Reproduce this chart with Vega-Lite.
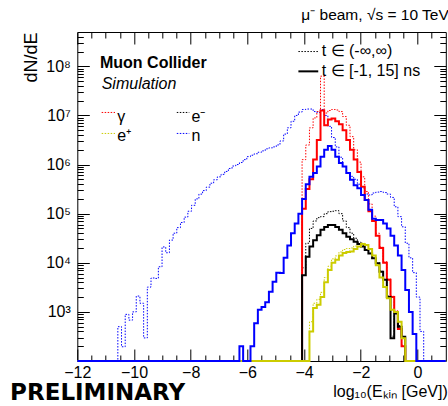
{
  "$schema": "https://vega.github.io/schema/vega-lite/v6.json",
  "width": 368.5,
  "height": 329,
  "autosize": "none",
  "padding": {"left": 77.3, "top": 32, "right": 2.2, "bottom": 45},
  "title": {"text": "μ⁻ beam, √s = 10 TeV", "anchor": "end", "fontSize": 15.5, "fontWeight": "normal", "font": "Liberation Sans", "color": "black", "offset": 8, "dx": -1},
  "config": {
    "view": {"stroke": "black", "strokeWidth": 1},
    "axis": {"labelFont": "Liberation Sans", "labelFontSize": 16, "labelColor": "black", "titleFont": "Liberation Sans", "titleFontSize": 16, "titleFontWeight": "normal", "titleColor": "black", "tickColor": "black", "tickWidth": 1, "domain": false, "grid": false, "labelFlush": false, "labelOverlap": false},
    "text": {"font": "Liberation Sans", "color": "black"}
  },
  "resolve": {"axis": {"x": "independent", "y": "independent"}},
  "datasets": {
    "h": [
      {"s":"n_all","x":-12,"y":100},{"s":"n_all","x":-10.57,"y":500},{"s":"n_all","x":-10.44,"y":195},{"s":"n_all","x":-10.31,"y":890},{"s":"n_all","x":-10.18,"y":680},{"s":"n_all","x":-10.05,"y":1000},{"s":"n_all","x":-9.92,"y":2100},{"s":"n_all","x":-9.79,"y":1500},{"s":"n_all","x":-9.66,"y":295},{"s":"n_all","x":-9.53,"y":3200},{"s":"n_all","x":-9.4,"y":4900},{"s":"n_all","x":-9.27,"y":4800},{"s":"n_all","x":-9.14,"y":8300},{"s":"n_all","x":-9.01,"y":21000},{"s":"n_all","x":-8.88,"y":16000},{"s":"n_all","x":-8.75,"y":29000},{"s":"n_all","x":-8.62,"y":40000},{"s":"n_all","x":-8.49,"y":52000},{"s":"n_all","x":-8.36,"y":66000},{"s":"n_all","x":-8.23,"y":85000},{"s":"n_all","x":-8.1,"y":112000},{"s":"n_all","x":-7.97,"y":148000},{"s":"n_all","x":-7.84,"y":200000},{"s":"n_all","x":-7.71,"y":250000},{"s":"n_all","x":-7.58,"y":295000},{"s":"n_all","x":-7.45,"y":347000},{"s":"n_all","x":-7.32,"y":417000},{"s":"n_all","x":-7.19,"y":490000},{"s":"n_all","x":-7.06,"y":562000},{"s":"n_all","x":-6.93,"y":631000},{"s":"n_all","x":-6.8,"y":724000},{"s":"n_all","x":-6.67,"y":832000},{"s":"n_all","x":-6.54,"y":933000},{"s":"n_all","x":-6.41,"y":1000000},{"s":"n_all","x":-6.28,"y":1100000},{"s":"n_all","x":-6.15,"y":1260000},{"s":"n_all","x":-6.02,"y":1450000},{"s":"n_all","x":-5.89,"y":1550000},{"s":"n_all","x":-5.76,"y":1660000},{"s":"n_all","x":-5.63,"y":1780000},{"s":"n_all","x":-5.5,"y":1900000},{"s":"n_all","x":-5.37,"y":2090000},{"s":"n_all","x":-5.24,"y":2190000},{"s":"n_all","x":-5.11,"y":2290000},{"s":"n_all","x":-4.98,"y":2510000},{"s":"n_all","x":-4.85,"y":3020000},{"s":"n_all","x":-4.72,"y":4170000},{"s":"n_all","x":-4.59,"y":5600000},{"s":"n_all","x":-4.46,"y":7600000},{"s":"n_all","x":-4.33,"y":10000000},{"s":"n_all","x":-4.2,"y":11700000},{"s":"n_all","x":-4.07,"y":13200000},{"s":"n_all","x":-3.94,"y":13500000},{"s":"n_all","x":-3.81,"y":13500000},{"s":"n_all","x":-3.68,"y":12000000},{"s":"n_all","x":-3.55,"y":11500000},{"s":"n_all","x":-3.42,"y":13200000},{"s":"n_all","x":-3.29,"y":10000000},{"s":"n_all","x":-3.16,"y":6000000},{"s":"n_all","x":-3.03,"y":3550000},{"s":"n_all","x":-2.9,"y":2290000},{"s":"n_all","x":-2.77,"y":1410000},{"s":"n_all","x":-2.64,"y":912000},{"s":"n_all","x":-2.51,"y":676000},{"s":"n_all","x":-2.38,"y":575000},{"s":"n_all","x":-2.25,"y":501000},{"s":"n_all","x":-2.12,"y":398000},{"s":"n_all","x":-1.99,"y":331000},{"s":"n_all","x":-1.86,"y":251000},{"s":"n_all","x":-1.73,"y":240000},{"s":"n_all","x":-1.6,"y":263000},{"s":"n_all","x":-1.47,"y":275000},{"s":"n_all","x":-1.34,"y":282000},{"s":"n_all","x":-1.21,"y":269000},{"s":"n_all","x":-1.08,"y":251000},{"s":"n_all","x":-0.95,"y":214000},{"s":"n_all","x":-0.82,"y":138000},{"s":"n_all","x":-0.69,"y":87000},{"s":"n_all","x":-0.56,"y":54000},{"s":"n_all","x":-0.43,"y":25000},{"s":"n_all","x":-0.3,"y":12600},{"s":"n_all","x":-0.17,"y":6300},{"s":"n_all","x":-0.04,"y":2000},{"s":"n_all","x":0.09,"y":400},{"s":"n_all","x":0.22,"y":100},{"s":"n_all","x":1,"y":100},

      {"s":"g_all","x":-12,"y":100},{"s":"g_all","x":-4.07,"y":1260000},{"s":"g_all","x":-3.94,"y":2500000},{"s":"g_all","x":-3.81,"y":5600000},{"s":"g_all","x":-3.68,"y":8900000},{"s":"g_all","x":-3.55,"y":12000000},{"s":"g_all","x":-3.42,"y":63000000},{"s":"g_all","x":-3.29,"y":11200000},{"s":"g_all","x":-3.16,"y":12600000},{"s":"g_all","x":-3.03,"y":13200000},{"s":"g_all","x":-2.9,"y":12900000},{"s":"g_all","x":-2.77,"y":12000000},{"s":"g_all","x":-2.64,"y":9500000},{"s":"g_all","x":-2.51,"y":6300000},{"s":"g_all","x":-2.38,"y":3700000},{"s":"g_all","x":-2.25,"y":2000000},{"s":"g_all","x":-2.12,"y":1120000},{"s":"g_all","x":-1.99,"y":562000},{"s":"g_all","x":-1.86,"y":282000},{"s":"g_all","x":-1.73,"y":158000},{"s":"g_all","x":-1.6,"y":89000},{"s":"g_all","x":-1.47,"y":40000},{"s":"g_all","x":-1.34,"y":21000},{"s":"g_all","x":-1.21,"y":10500},{"s":"g_all","x":-1.08,"y":4700},{"s":"g_all","x":-0.95,"y":2100},{"s":"g_all","x":-0.82,"y":1050},{"s":"g_all","x":-0.69,"y":470},{"s":"g_all","x":-0.56,"y":210},{"s":"g_all","x":-0.43,"y":100},{"s":"g_all","x":1,"y":100},

      {"s":"em_all","x":-12,"y":100},{"s":"em_all","x":-4.07,"y":7900},{"s":"em_all","x":-3.94,"y":25000},{"s":"em_all","x":-3.81,"y":50000},{"s":"em_all","x":-3.68,"y":71000},{"s":"em_all","x":-3.55,"y":83000},{"s":"em_all","x":-3.42,"y":87000},{"s":"em_all","x":-3.29,"y":100000},{"s":"em_all","x":-3.16,"y":110000},{"s":"em_all","x":-3.03,"y":112000},{"s":"em_all","x":-2.9,"y":115000},{"s":"em_all","x":-2.77,"y":100000},{"s":"em_all","x":-2.64,"y":71000},{"s":"em_all","x":-2.51,"y":52000},{"s":"em_all","x":-2.38,"y":40000},{"s":"em_all","x":-2.25,"y":31600},{"s":"em_all","x":-2.12,"y":26300},{"s":"em_all","x":-1.99,"y":22400},{"s":"em_all","x":-1.86,"y":18600},{"s":"em_all","x":-1.73,"y":15800},{"s":"em_all","x":-1.6,"y":12600},{"s":"em_all","x":-1.47,"y":10000},{"s":"em_all","x":-1.34,"y":6800},{"s":"em_all","x":-1.21,"y":4600},{"s":"em_all","x":-1.08,"y":2100},{"s":"em_all","x":-0.95,"y":320},{"s":"em_all","x":-0.82,"y":950},{"s":"em_all","x":-0.69,"y":525},{"s":"em_all","x":-0.56,"y":316},{"s":"em_all","x":-0.43,"y":100},{"s":"em_all","x":1,"y":100},

      {"s":"ep_all","x":-12,"y":100},{"s":"ep_all","x":-3.81,"y":630},{"s":"ep_all","x":-3.68,"y":1500},{"s":"ep_all","x":-3.55,"y":1800},{"s":"ep_all","x":-3.42,"y":2500},{"s":"ep_all","x":-3.29,"y":5000},{"s":"ep_all","x":-3.16,"y":8500},{"s":"ep_all","x":-3.03,"y":12000},{"s":"ep_all","x":-2.9,"y":13800},{"s":"ep_all","x":-2.77,"y":16600},{"s":"ep_all","x":-2.64,"y":18600},{"s":"ep_all","x":-2.51,"y":19500},{"s":"ep_all","x":-2.38,"y":20000},{"s":"ep_all","x":-2.25,"y":21900},{"s":"ep_all","x":-2.12,"y":24000},{"s":"ep_all","x":-1.99,"y":25100},{"s":"ep_all","x":-1.86,"y":23400},{"s":"ep_all","x":-1.73,"y":19000},{"s":"ep_all","x":-1.6,"y":14100},{"s":"ep_all","x":-1.47,"y":8900},{"s":"ep_all","x":-1.34,"y":5000},{"s":"ep_all","x":-1.21,"y":3200},{"s":"ep_all","x":-1.08,"y":1900},{"s":"ep_all","x":-0.95,"y":1100},{"s":"ep_all","x":-0.82,"y":1000},{"s":"ep_all","x":-0.69,"y":630},{"s":"ep_all","x":-0.56,"y":290},{"s":"ep_all","x":-0.43,"y":100},{"s":"ep_all","x":1,"y":100},

      {"s":"g_win","x":-12,"y":100},{"s":"g_win","x":-4.07,"y":126000},{"s":"g_win","x":-3.94,"y":316000},{"s":"g_win","x":-3.81,"y":501000},{"s":"g_win","x":-3.68,"y":1260000},{"s":"g_win","x":-3.55,"y":3160000},{"s":"g_win","x":-3.42,"y":12600000},{"s":"g_win","x":-3.29,"y":6300000},{"s":"g_win","x":-3.16,"y":8300000},{"s":"g_win","x":-3.03,"y":8700000},{"s":"g_win","x":-2.9,"y":7600000},{"s":"g_win","x":-2.77,"y":6600000},{"s":"g_win","x":-2.64,"y":5000000},{"s":"g_win","x":-2.51,"y":3160000},{"s":"g_win","x":-2.38,"y":2000000},{"s":"g_win","x":-2.25,"y":1260000},{"s":"g_win","x":-2.12,"y":708000},{"s":"g_win","x":-1.99,"y":355000},{"s":"g_win","x":-1.86,"y":190000},{"s":"g_win","x":-1.73,"y":112000},{"s":"g_win","x":-1.6,"y":71000},{"s":"g_win","x":-1.47,"y":35500},{"s":"g_win","x":-1.34,"y":20000},{"s":"g_win","x":-1.21,"y":10000},{"s":"g_win","x":-1.08,"y":4500},{"s":"g_win","x":-0.95,"y":2000},{"s":"g_win","x":-0.82,"y":1000},{"s":"g_win","x":-0.69,"y":450},{"s":"g_win","x":-0.56,"y":200},{"s":"g_win","x":-0.43,"y":100},{"s":"g_win","x":1,"y":100},

      {"s":"em_win","x":-12,"y":100},{"s":"em_win","x":-4.07,"y":5600},{"s":"em_win","x":-3.94,"y":13200},{"s":"em_win","x":-3.81,"y":21400},{"s":"em_win","x":-3.68,"y":28800},{"s":"em_win","x":-3.55,"y":36300},{"s":"em_win","x":-3.42,"y":46800},{"s":"em_win","x":-3.29,"y":53700},{"s":"em_win","x":-3.16,"y":58900},{"s":"em_win","x":-3.03,"y":58900},{"s":"em_win","x":-2.9,"y":53700},{"s":"em_win","x":-2.77,"y":46800},{"s":"em_win","x":-2.64,"y":39800},{"s":"em_win","x":-2.51,"y":33900},{"s":"em_win","x":-2.38,"y":30200},{"s":"em_win","x":-2.25,"y":26900},{"s":"em_win","x":-2.12,"y":24000},{"s":"em_win","x":-1.99,"y":21400},{"s":"em_win","x":-1.86,"y":18200},{"s":"em_win","x":-1.73,"y":15500},{"s":"em_win","x":-1.6,"y":12300},{"s":"em_win","x":-1.47,"y":9800},{"s":"em_win","x":-1.34,"y":6600},{"s":"em_win","x":-1.21,"y":4500},{"s":"em_win","x":-1.08,"y":2000},{"s":"em_win","x":-0.95,"y":290},{"s":"em_win","x":-0.82,"y":930},{"s":"em_win","x":-0.69,"y":500},{"s":"em_win","x":-0.56,"y":310},{"s":"em_win","x":-0.43,"y":100},{"s":"em_win","x":1,"y":100},

      {"s":"ep_win","x":-12,"y":100},{"s":"ep_win","x":-3.81,"y":400},{"s":"ep_win","x":-3.68,"y":1200},{"s":"ep_win","x":-3.55,"y":1400},{"s":"ep_win","x":-3.42,"y":2000},{"s":"ep_win","x":-3.29,"y":4000},{"s":"ep_win","x":-3.16,"y":7100},{"s":"ep_win","x":-3.03,"y":10000},{"s":"ep_win","x":-2.9,"y":11500},{"s":"ep_win","x":-2.77,"y":14100},{"s":"ep_win","x":-2.64,"y":15800},{"s":"ep_win","x":-2.51,"y":16600},{"s":"ep_win","x":-2.38,"y":17000},{"s":"ep_win","x":-2.25,"y":19000},{"s":"ep_win","x":-2.12,"y":21400},{"s":"ep_win","x":-1.99,"y":24000},{"s":"ep_win","x":-1.86,"y":22900},{"s":"ep_win","x":-1.73,"y":19000},{"s":"ep_win","x":-1.6,"y":14100},{"s":"ep_win","x":-1.47,"y":8900},{"s":"ep_win","x":-1.34,"y":5000},{"s":"ep_win","x":-1.21,"y":3200},{"s":"ep_win","x":-1.08,"y":1900},{"s":"ep_win","x":-0.95,"y":1100},{"s":"ep_win","x":-0.82,"y":1000},{"s":"ep_win","x":-0.69,"y":630},{"s":"ep_win","x":-0.56,"y":290},{"s":"ep_win","x":-0.43,"y":100},{"s":"ep_win","x":1,"y":100},

      {"s":"n_win","x":-12,"y":100},{"s":"n_win","x":-6.28,"y":200},{"s":"n_win","x":-6.15,"y":100},{"s":"n_win","x":-5.89,"y":200},{"s":"n_win","x":-5.76,"y":590},{"s":"n_win","x":-5.63,"y":1100},{"s":"n_win","x":-5.5,"y":1260},{"s":"n_win","x":-5.37,"y":1580},{"s":"n_win","x":-5.24,"y":2570},{"s":"n_win","x":-5.11,"y":4100},{"s":"n_win","x":-4.98,"y":6300},{"s":"n_win","x":-4.85,"y":6200},{"s":"n_win","x":-4.72,"y":12600},{"s":"n_win","x":-4.59,"y":22400},{"s":"n_win","x":-4.46,"y":40000},{"s":"n_win","x":-4.33,"y":63000},{"s":"n_win","x":-4.2,"y":100000},{"s":"n_win","x":-4.07,"y":200000},{"s":"n_win","x":-3.94,"y":398000},{"s":"n_win","x":-3.81,"y":562000},{"s":"n_win","x":-3.68,"y":676000},{"s":"n_win","x":-3.55,"y":912000},{"s":"n_win","x":-3.42,"y":1450000},{"s":"n_win","x":-3.29,"y":2000000},{"s":"n_win","x":-3.16,"y":2400000},{"s":"n_win","x":-3.03,"y":2000000},{"s":"n_win","x":-2.9,"y":1450000},{"s":"n_win","x":-2.77,"y":1070000},{"s":"n_win","x":-2.64,"y":912000},{"s":"n_win","x":-2.51,"y":676000},{"s":"n_win","x":-2.38,"y":490000},{"s":"n_win","x":-2.25,"y":380000},{"s":"n_win","x":-2.12,"y":331000},{"s":"n_win","x":-1.99,"y":240000},{"s":"n_win","x":-1.86,"y":190000},{"s":"n_win","x":-1.73,"y":120000},{"s":"n_win","x":-1.6,"y":79000},{"s":"n_win","x":-1.47,"y":74000},{"s":"n_win","x":-1.34,"y":74000},{"s":"n_win","x":-1.21,"y":63000},{"s":"n_win","x":-1.08,"y":50000},{"s":"n_win","x":-0.95,"y":35500},{"s":"n_win","x":-0.82,"y":22400},{"s":"n_win","x":-0.69,"y":14100},{"s":"n_win","x":-0.56,"y":7100},{"s":"n_win","x":-0.43,"y":2800},{"s":"n_win","x":-0.3,"y":1000},{"s":"n_win","x":-0.17,"y":355},{"s":"n_win","x":-0.04,"y":100},{"s":"n_win","x":1,"y":100}
    ]
  },
  "layer": [
    {
      "data": {"name": "h"},
      "transform": [{"filter": "datum.s == 'n_all'"}],
      "mark": {"type": "line", "interpolate": "step-after", "color": "#0000ff", "strokeWidth": 1, "strokeDash": [1.5, 1.5]},
      "encoding": {
        "x": {"field": "x", "type": "quantitative", "scale": {"domain": [-12, 1], "nice": false, "zero": false},
              "axis": {"orient": "bottom", "values": [-12, -10, -8, -6, -4, -2, 0], "tickSize": -12, "labelPadding": 15, "title": "log₁₀(Eₖᵢₙ [GeV])", "titleAnchor": "end", "titleAlign": "right", "titleBaseline": "alphabetic", "titleX": 370, "titleY": 35}},
        "y": {"field": "y", "type": "quantitative", "scale": {"type": "log", "domain": [100, 500000000], "nice": false},
              "axis": {"orient": "left", "values": [1000, 10000, 100000, 1000000, 10000000, 100000000], "tickSize": -12, "labelPadding": 19,
                       "labelExpr": "'10' + ['⁰','¹','²','³','⁴','⁵','⁶','⁷','⁸','⁹'][round(log(datum.value)/LN10)]",
                       "title": "dN/dE", "titleFontSize": 18, "titleAngle": -90, "titleAlign": "right", "titleBaseline": "middle", "titleX": -46, "titleY": 0}}
      }
    },
    {
      "data": {"name": "h"},
      "transform": [{"filter": "datum.s == 'g_all'"}],
      "mark": {"type": "line", "interpolate": "step-after", "color": "#ff0000", "strokeWidth": 1, "strokeDash": [1.5, 1.5]},
      "encoding": {
        "x": {"field": "x", "type": "quantitative", "scale": {"domain": [-12, 1], "nice": false, "zero": false},
              "axis": {"orient": "bottom", "values": [-11.5, -11, -10.5, -9.5, -9, -8.5, -7.5, -7, -6.5, -5.5, -5, -4.5, -3.5, -3, -2.5, -1.5, -1, -0.5, 0.5], "tickSize": -6, "labels": false, "title": null}},
        "y": {"field": "y", "type": "quantitative", "scale": {"type": "log", "domain": [100, 500000000], "nice": false},
              "axis": {"orient": "left", "values": [200,300,400,500,600,700,800,900,2000,3000,4000,5000,6000,7000,8000,9000,20000,30000,40000,50000,60000,70000,80000,90000,200000,300000,400000,500000,600000,700000,800000,900000,2000000,3000000,4000000,5000000,6000000,7000000,8000000,9000000,20000000,30000000,40000000,50000000,60000000,70000000,80000000,90000000,200000000,300000000,400000000], "tickSize": -6, "labels": false, "title": null}}
      }
    },
    {
      "data": {"name": "h"},
      "transform": [{"filter": "datum.s == 'em_all'"}],
      "mark": {"type": "line", "interpolate": "step-after", "color": "#000000", "strokeWidth": 1, "strokeDash": [1.5, 1.5]},
      "encoding": {
        "x": {"field": "x", "type": "quantitative", "scale": {"domain": [-12, 1], "nice": false, "zero": false},
              "axis": {"orient": "top", "values": [-12, -10, -8, -6, -4, -2, 0], "tickSize": -12, "labels": false, "title": null}},
        "y": {"field": "y", "type": "quantitative", "scale": {"type": "log", "domain": [100, 500000000], "nice": false},
              "axis": {"orient": "right", "values": [1000, 10000, 100000, 1000000, 10000000, 100000000], "tickSize": -12, "labels": false, "title": null}}
      }
    },
    {
      "data": {"name": "h"},
      "transform": [{"filter": "datum.s == 'ep_all'"}],
      "mark": {"type": "line", "interpolate": "step-after", "color": "#cccc00", "strokeWidth": 1, "strokeDash": [1.5, 1.5]},
      "encoding": {
        "x": {"field": "x", "type": "quantitative", "scale": {"domain": [-12, 1], "nice": false, "zero": false},
              "axis": {"orient": "top", "values": [-11.5, -11, -10.5, -9.5, -9, -8.5, -7.5, -7, -6.5, -5.5, -5, -4.5, -3.5, -3, -2.5, -1.5, -1, -0.5, 0.5], "tickSize": -6, "labels": false, "title": null}},
        "y": {"field": "y", "type": "quantitative", "scale": {"type": "log", "domain": [100, 500000000], "nice": false},
              "axis": {"orient": "right", "values": [200,300,400,500,600,700,800,900,2000,3000,4000,5000,6000,7000,8000,9000,20000,30000,40000,50000,60000,70000,80000,90000,200000,300000,400000,500000,600000,700000,800000,900000,2000000,3000000,4000000,5000000,6000000,7000000,8000000,9000000,20000000,30000000,40000000,50000000,60000000,70000000,80000000,90000000,200000000,300000000,400000000], "tickSize": -6, "labels": false, "title": null}}
      }
    },
    {
      "data": {"name": "h"},
      "transform": [{"filter": "datum.s == 'g_win'"}],
      "mark": {"type": "line", "interpolate": "step-after", "color": "#ff0000", "strokeWidth": 2},
      "encoding": {
        "x": {"field": "x", "type": "quantitative", "axis": null},
        "y": {"field": "y", "type": "quantitative", "axis": null}
      }
    },
    {
      "data": {"name": "h"},
      "transform": [{"filter": "datum.s == 'em_win'"}],
      "mark": {"type": "line", "interpolate": "step-after", "color": "#000000", "strokeWidth": 2},
      "encoding": {
        "x": {"field": "x", "type": "quantitative", "axis": null},
        "y": {"field": "y", "type": "quantitative", "axis": null}
      }
    },
    {
      "data": {"name": "h"},
      "transform": [{"filter": "datum.s == 'ep_win'"}],
      "mark": {"type": "line", "interpolate": "step-after", "color": "#cccc00", "strokeWidth": 2},
      "encoding": {
        "x": {"field": "x", "type": "quantitative", "axis": null},
        "y": {"field": "y", "type": "quantitative", "axis": null}
      }
    },
    {
      "data": {"name": "h"},
      "transform": [{"filter": "datum.s == 'n_win'"}],
      "mark": {"type": "line", "interpolate": "step-after", "color": "#0000ff", "strokeWidth": 2},
      "encoding": {
        "x": {"field": "x", "type": "quantitative", "axis": null},
        "y": {"field": "y", "type": "quantitative", "axis": null}
      }
    },
    {
      "data": {"values": [{}]},
      "mark": {"type": "rule", "color": "#ff0000", "strokeWidth": 1, "strokeDash": [1.5, 1.5]},
      "encoding": {"x": {"datum": -11.14, "type": "quantitative", "axis": null}, "x2": {"datum": -10.67}, "y": {"datum": 11500000, "type": "quantitative", "axis": null}}
    },
    {
      "data": {"values": [{}]},
      "mark": {"type": "rule", "color": "#000000", "strokeWidth": 1, "strokeDash": [1.5, 1.5]},
      "encoding": {"x": {"datum": -8.49, "type": "quantitative", "axis": null}, "x2": {"datum": -8.05}, "y": {"datum": 11500000, "type": "quantitative", "axis": null}}
    },
    {
      "data": {"values": [{}]},
      "mark": {"type": "rule", "color": "#cccc00", "strokeWidth": 1, "strokeDash": [1.5, 1.5]},
      "encoding": {"x": {"datum": -11.14, "type": "quantitative", "axis": null}, "x2": {"datum": -10.67}, "y": {"datum": 4300000, "type": "quantitative", "axis": null}}
    },
    {
      "data": {"values": [{}]},
      "mark": {"type": "rule", "color": "#0000ff", "strokeWidth": 1, "strokeDash": [1.5, 1.5]},
      "encoding": {"x": {"datum": -8.49, "type": "quantitative", "axis": null}, "x2": {"datum": -8.05}, "y": {"datum": 4300000, "type": "quantitative", "axis": null}}
    },
    {
      "data": {"values": [{}]},
      "mark": {"type": "rule", "color": "#000000", "strokeWidth": 1, "strokeDash": [1.5, 1.5]},
      "encoding": {"x": {"datum": -4.2, "type": "quantitative", "axis": null}, "x2": {"datum": -3.5}, "y": {"datum": 200000000, "type": "quantitative", "axis": null}}
    },
    {
      "data": {"values": [{}]},
      "mark": {"type": "rule", "color": "#000000", "strokeWidth": 2},
      "encoding": {"x": {"datum": -4.2, "type": "quantitative", "axis": null}, "x2": {"datum": -3.5}, "y": {"datum": 79000000, "type": "quantitative", "axis": null}}
    },
    {
      "data": {"values": [{}]},
      "mark": {"type": "text", "align": "left", "baseline": "alphabetic", "fontSize": 16, "fontWeight": "bold"},
      "encoding": {"x": {"datum": -11.2, "type": "quantitative", "axis": null}, "y": {"datum": 91000000, "type": "quantitative", "axis": null}, "text": {"value": "Muon Collider"}}
    },
    {
      "data": {"values": [{}]},
      "mark": {"type": "text", "align": "left", "baseline": "alphabetic", "fontSize": 16, "fontStyle": "italic"},
      "encoding": {"x": {"datum": -11.14, "type": "quantitative", "axis": null}, "y": {"datum": 34200000, "type": "quantitative", "axis": null}, "text": {"value": "Simulation"}}
    },
    {
      "data": {"values": [{}]},
      "mark": {"type": "text", "align": "left", "baseline": "alphabetic", "fontSize": 16},
      "encoding": {"x": {"datum": -10.59, "type": "quantitative", "axis": null}, "y": {"datum": 7200000, "type": "quantitative", "axis": null}, "text": {"value": "γ"}}
    },
    {
      "data": {"values": [{}]},
      "mark": {"type": "text", "align": "left", "baseline": "alphabetic", "fontSize": 16},
      "encoding": {"x": {"datum": -7.97, "type": "quantitative", "axis": null}, "y": {"datum": 7200000, "type": "quantitative", "axis": null}, "text": {"value": "e⁻"}}
    },
    {
      "data": {"values": [{}]},
      "mark": {"type": "text", "align": "left", "baseline": "alphabetic", "fontSize": 16},
      "encoding": {"x": {"datum": -10.59, "type": "quantitative", "axis": null}, "y": {"datum": 3000000, "type": "quantitative", "axis": null}, "text": {"value": "e⁺"}}
    },
    {
      "data": {"values": [{}]},
      "mark": {"type": "text", "align": "left", "baseline": "alphabetic", "fontSize": 16},
      "encoding": {"x": {"datum": -7.97, "type": "quantitative", "axis": null}, "y": {"datum": 3000000, "type": "quantitative", "axis": null}, "text": {"value": "n"}}
    },
    {
      "data": {"values": [{}]},
      "mark": {"type": "text", "align": "left", "baseline": "alphabetic", "fontSize": 16},
      "encoding": {"x": {"datum": -3.38, "type": "quantitative", "axis": null}, "y": {"datum": 162000000, "type": "quantitative", "axis": null}, "text": {"value": "t ∈ (-∞,∞)"}}
    },
    {
      "data": {"values": [{}]},
      "mark": {"type": "text", "align": "left", "baseline": "alphabetic", "fontSize": 16},
      "encoding": {"x": {"datum": -3.38, "type": "quantitative", "axis": null}, "y": {"datum": 63000000, "type": "quantitative", "axis": null}, "text": {"value": "t ∈ [-1, 15] ns"}}
    },
    {
      "data": {"values": [{}]},
      "mark": {"type": "text", "align": "left", "baseline": "alphabetic", "fontSize": 23, "fontWeight": "bold", "font": "DejaVu Sans"},
      "encoding": {"x": {"datum": -14.37, "type": "quantitative", "axis": null}, "y": {"datum": 16.1, "type": "quantitative", "axis": null}, "text": {"value": "PRELIMINARY"}}
    }
  ]
}
